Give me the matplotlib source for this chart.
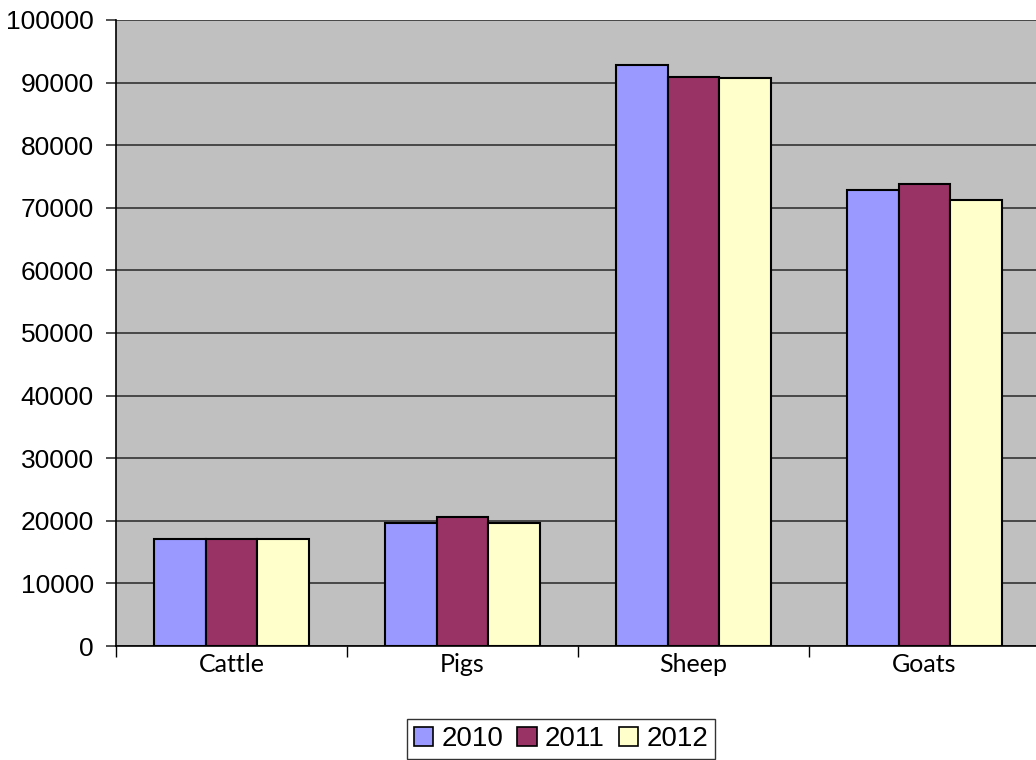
import numpy as np
import matplotlib
matplotlib.use("Agg")
import matplotlib.pyplot as plt
from matplotlib.patches import Patch

categories = ["Cattle", "Pigs", "Sheep", "Goats"]
years = ["2010", "2011", "2012"]
v2010 = [17100, 19600, 92800, 72800]
v2011 = [17100, 20650, 90900, 73800]
v2012 = [17100, 19600, 90700, 71200]
colors = ["#9999FF", "#993366", "#FFFFCC"]

fig = plt.figure(figsize=(10.36, 7.6), dpi=100)
ax = fig.add_axes([116/1036, 114/760, 924/1036, 626/760])
ax.set_facecolor("#C0C0C0")

x = np.arange(len(categories)) + 0.5
w = 0.225
for i, (vals, c) in enumerate(zip([v2010, v2011, v2012], colors)):
    ax.bar(x + (i - 1) * w, vals, w, color=c, edgecolor="black", linewidth=1.5, zorder=3)

ax.set_xlim(0, 4)
ax.set_ylim(0, 100000)
ax.set_yticks(np.arange(0, 100001, 10000))
ax.yaxis.grid(True, color="#333333", linewidth=1.2, zorder=0)
ax.set_axisbelow(True)
ax.tick_params(axis="y", length=7, width=1.2, labelsize=19, pad=9, color="#333333")
for t in ax.get_yticklabels():
    t.set_family("Liberation Sans")

ax.set_xticks(np.arange(0, 5))
ax.set_xticklabels([])
ax.tick_params(axis="x", which="major", length=8, width=1, color="black")
ax.set_xticks(x, minor=True)
ax.set_xticklabels(categories, minor=True, fontsize=18, family="Lato")
ax.tick_params(axis="x", which="minor", length=0, pad=5)

for s in ["top", "right"]:
    ax.spines[s].set_visible(False)
ax.spines["left"].set_linewidth(1.2)
ax.spines["bottom"].set_linewidth(1.2)

handles = [Patch(facecolor=c, edgecolor="black", linewidth=1.2) for c in colors]
leg = fig.legend(handles, years, loc="upper center", bbox_to_anchor=(561/1036, 41/760),
                 ncol=3, frameon=True, fancybox=False, edgecolor="black",
                 prop={"family": "Liberation Sans", "size": 20},
                 handlelength=0.7, handleheight=0.7, handletextpad=0.3,
                 columnspacing=0.5, borderpad=0.25, borderaxespad=0)
leg.get_frame().set_linewidth(1.0)

fig.savefig("out.png", dpi=100)
